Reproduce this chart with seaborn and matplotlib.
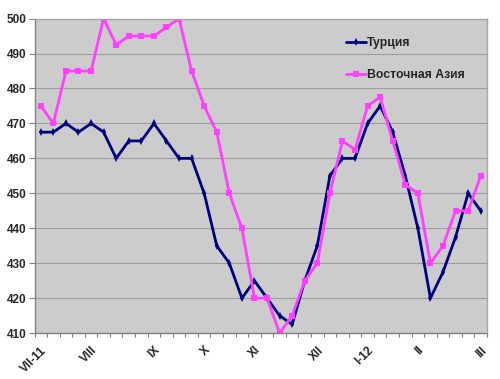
import matplotlib
matplotlib.use("Agg")
import matplotlib.pyplot as plt
import numpy as np
import pandas as pd
import seaborn as sns

# Weekly values, 36 weeks from July 2011 to March 2012
turkey = [467.5, 467.5, 470, 467.5, 470, 467.5, 460, 465, 465, 470, 465, 460,
          460, 450, 435, 430, 420, 425, 420, 415, 412.5, 425, 435, 455,
          460, 460, 470, 475, 467.5, 455, 440, 420, 427.5, 437.5, 450, 445]
east_asia = [475, 470, 485, 485, 485, 500, 492.5, 495, 495, 495, 497.5, 500,
             485, 475, 467.5, 450, 440, 420, 420, 410, 415, 425, 430, 450,
             465, 462.5, 475, 477.5, 465, 452.5, 450, 430, 435, 445, 445, 455]
month_pos = [0, 4, 9, 13, 17, 22, 26, 30, 35]
month_labels = ["VII-11", "VIII", "IX", "X", "XI", "XII", "I-12", "II", "III"]

week = np.arange(len(turkey))
df = pd.DataFrame({"week": week, "Турция": turkey, "Восточная Азия": east_asia})

sns.set_theme(style="white")
plt.rcParams["font.family"] = ["Liberation Sans", "DejaVu Sans"]

fig, ax = plt.subplots(figsize=(5, 3.79), dpi=100)
fig.subplots_adjust(left=0.069, right=0.974, top=0.951, bottom=0.121)
ax.set_facecolor("#cccccc")

sns.lineplot(data=df, x="week", y="Турция", ax=ax, color="#000080",
             linewidth=2, marker="d", markersize=4, markeredgewidth=0,
             label="Турция")
sns.lineplot(data=df, x="week", y="Восточная Азия", ax=ax, color="#ff40ff",
             linewidth=2, marker="s", markersize=4.5, markeredgewidth=0,
             label="Восточная Азия")

ax.set_xlim(-0.5, len(turkey) - 0.5)
ax.set_ylim(410, 500)
ax.set_yticks(np.arange(410, 501, 10))
ax.yaxis.grid(True, color="#9c9c9c", linewidth=0.8)
ax.set_axisbelow(True)

ax.set_xticks(month_pos)
ax.set_xticklabels(month_labels, rotation=45, ha="right", rotation_mode="anchor",
                   fontsize=8.5, fontweight="bold")
ax.set_xticks(np.arange(-0.5, len(turkey), 1), minor=True)
ax.tick_params(axis="x", which="major", length=0, pad=8)
ax.tick_params(axis="x", which="minor", bottom=True, length=3, width=0.8,
               color="#808080")
ax.tick_params(axis="y", left=True, length=4, width=0.8, color="#808080",
               labelsize=8.5, pad=2)
for t in ax.get_yticklabels():
    t.set_fontweight("bold")

ax.set_xlabel("")
ax.set_ylabel("")
for side in ["left", "bottom"]:
    ax.spines[side].set_color("#808080")
    ax.spines[side].set_linewidth(1)
for side in ["top", "right"]:
    ax.spines[side].set_color("#a6a6a6")
    ax.spines[side].set_linewidth(1)

leg = ax.legend(loc="upper left", bbox_to_anchor=(0.665, 0.975), frameon=False,
                handlelength=1.6, handletextpad=0.1, labelspacing=1.6,
                prop={"weight": "bold", "size": 8.8})

fig.savefig("out.png", dpi=100)
